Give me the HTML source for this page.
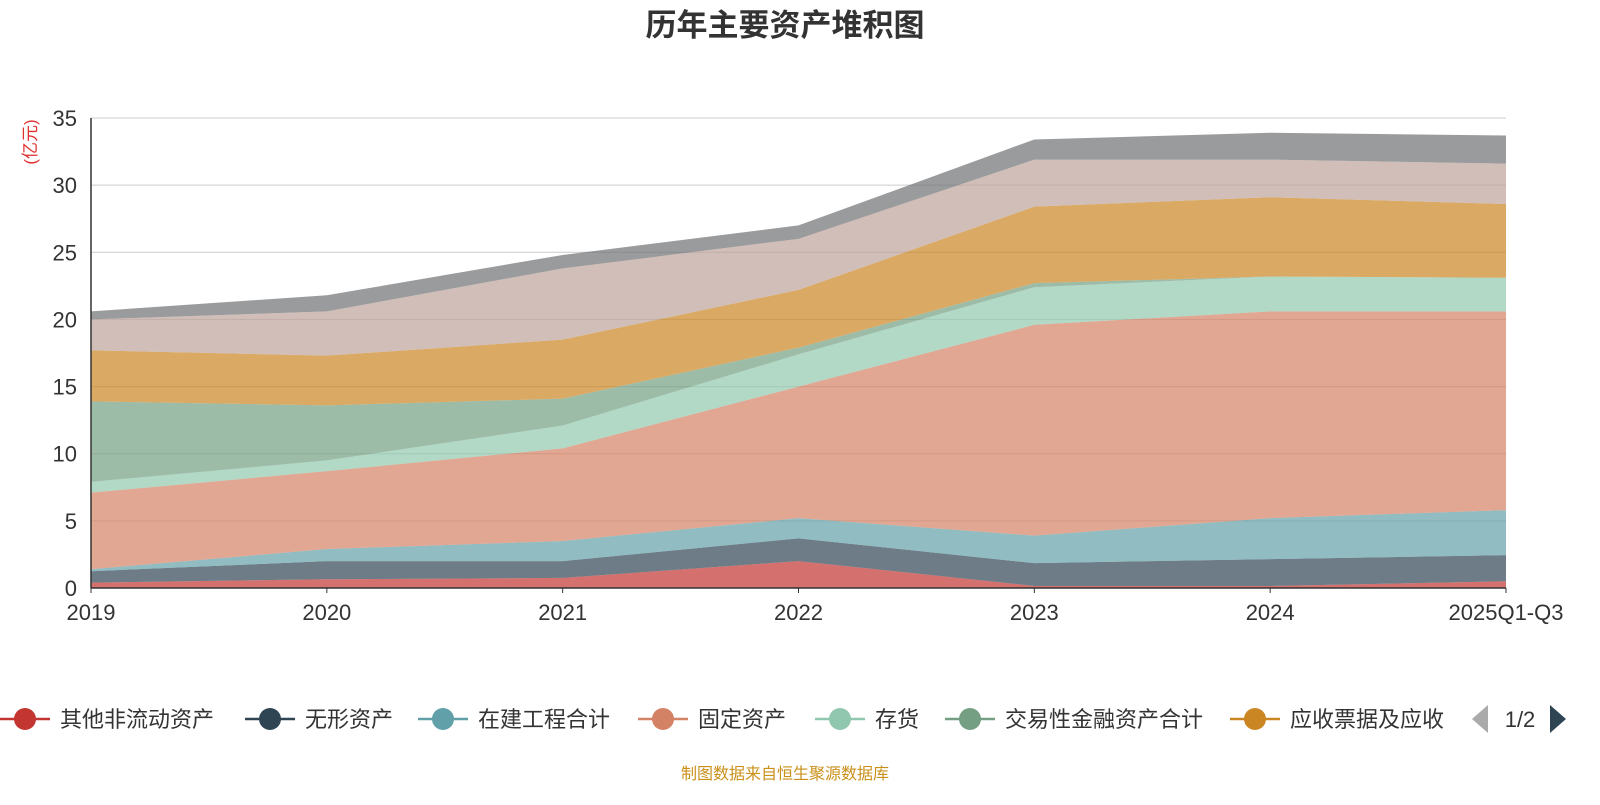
<!DOCTYPE html>
<html><head><meta charset="utf-8"><style>
body{margin:0;background:#fff;}
svg text{font-family:"Liberation Sans","Noto Sans CJK SC",sans-serif;}
</style></head><body>
<svg id="chart" width="1600" height="800">
<text x="785" y="36" text-anchor="middle" font-size="31" font-weight="bold" fill="#333">历年主要资产堆积图</text>
<text transform="translate(36,142) rotate(-90)" text-anchor="middle" font-size="17" fill="#e03030">(亿元)</text>
<g id="grid"></g><g id="areas"></g><g id="axes"></g><g id="legend"></g>
<text x="785" y="779" text-anchor="middle" font-size="16" fill="#c9901a">制图数据来自恒生聚源数据库</text>
</svg>
<script>
const categories=["2019","2020","2021","2022","2023","2024","2025Q1-Q3"];
const yTicks=[0,5,10,15,20,25,30,35];
const seriesNames=["其他非流动资产","无形资产","在建工程合计","固定资产","存货","交易性金融资产合计","应收票据及应收","货币资金","其他"];
const sOther=[0.4,0.65,0.75,2.0,0.15,0.15,0.5];
const sIntangible=[0.85,1.35,1.25,1.7,1.7,2.0,1.95];
const sConstruction=[0.15,0.9,1.5,1.5,2.05,3.05,3.35];
const sFixed=[5.7,5.8,6.9,9.8,15.7,15.4,14.8];
const sInventory=[0.8,0.8,1.7,2.4,2.8,2.6,2.5];
const sTrading=[6.0,4.1,2.0,0.5,0.3,0.0,0.0];
const sReceivable=[3.8,3.7,4.4,4.3,5.7,5.9,5.5];
const sCash=[2.3,3.3,5.3,3.8,3.5,2.8,3.0];
const sRest=[0.6,1.2,1.0,1.0,1.5,2.0,2.1];
const seriesData=[sOther,sIntangible,sConstruction,sFixed,sInventory,sTrading,sReceivable,sCash,sRest];
const colors=["#c23531","#2f4554","#61a0a8","#d48265","#91c7ae","#749f83","#ca8622","#bda29a","#6e7074"];
const NS="http://www.w3.org/2000/svg";
const x0=91,x1=1506,y0=588,y1=118;
const xS=i=>x0+i*(x1-x0)/(categories.length-1);
const yS=v=>y0-v*(y0-y1)/35;
function mk(t,a,p){const e=document.createElementNS(NS,t);for(const k in a)e.setAttribute(k,a[k]);p.appendChild(e);return e;}
const grid=document.getElementById('grid'),axes=document.getElementById('axes'),areas=document.getElementById('areas'),legend=document.getElementById('legend');
yTicks.forEach(v=>{
 if(v>0){const l=mk('line',{x1:x0,x2:x1,y1:yS(v),y2:yS(v),stroke:'#ccc','stroke-width':1},grid);
 
 }
 const t=mk('text',{x:x0-14,y:yS(v)+8,'text-anchor':'end','font-size':22,fill:'#333'},axes);t.textContent=v;
 
 
});
let base=categories.map(()=>0);
seriesData.forEach((s,k)=>{
 const top=base.map((b,i)=>b+s[i]);
 let d='M'+top.map((v,i)=>xS(i)+','+yS(v)).join('L');
 for(let i=categories.length-1;i>=0;i--)d+='L'+xS(i)+','+yS(base[i]);
 const p=mk('path',{d:d+'Z',fill:colors[k],'fill-opacity':0.7,stroke:'none'},areas);
 
 
 base=top;
});
const ax=mk('line',{x1:x0,x2:x1,y1:y0,y2:y0,stroke:'#333','stroke-width':1.5},axes);


const ay=mk('line',{x1:x0,x2:x0,y1:y1,y2:y0,stroke:'#333','stroke-width':1.5},axes);


categories.forEach((c,i)=>{
 const tk=mk('line',{x1:xS(i),x2:xS(i),y1:y0,y2:y0+5,stroke:'#333'},axes);
 
 
 const t=mk('text',{x:xS(i),y:y0+32,'text-anchor':'middle','font-size':22,fill:'#333'},axes);t.textContent=c;
 
 
});
const lx=[0,245,418,638,815,945,1230];
lx.forEach((x,k)=>{
 const g=mk('g',{},legend);
 
 
 mk('line',{x1:x,x2:x+50,y1:719,y2:719,stroke:colors[k],'stroke-width':2.5},g);
 mk('circle',{cx:x+25,cy:719,r:11,fill:colors[k]},g);
 const t=mk('text',{x:x+60,y:727,'font-size':22,fill:'#333'},g);t.textContent=seriesNames[k];
});
const pl=mk('path',{d:'M1472,719L1488,705L1488,733Z',fill:'#aaa'},legend);


const pt=mk('text',{x:1520,y:727,'text-anchor':'middle','font-size':22,fill:'#333'},legend);pt.textContent='1/2';


const pr=mk('path',{d:'M1566,719L1550,705L1550,733Z',fill:'#2f4554'},legend);


</script>
</body></html>
